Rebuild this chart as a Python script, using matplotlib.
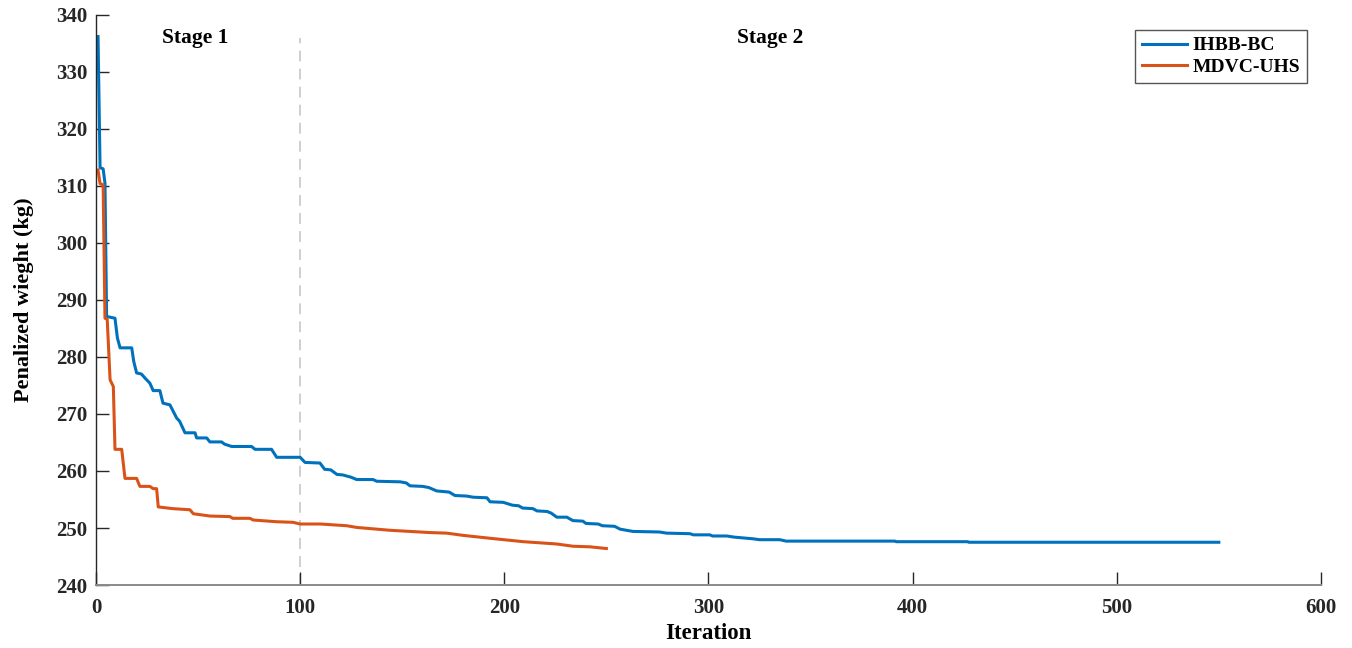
#!/usr/bin/env python3

import matplotlib
matplotlib.use('Agg')
from matplotlib import pyplot as plt

# breakpoints (iteration, penalized weight)
IHBB_X = [1, 2, 3.5, 4.4, 5.2, 9.3, 10.5, 11.8, 17.5, 18.5, 19.9, 22.3, 24, 26.4, 28, 31.3,
          32.8, 36.2, 39.5, 41, 43.6, 48.5, 49.3, 54.2, 55.8, 61.5, 63, 66.5, 76.2, 77.9, 86,
          88.5, 100, 102.4, 109.7, 112, 115, 118, 121, 125, 127.7, 135.7, 137.5, 149, 152,
          153.8, 160, 163, 166.9, 170, 173, 175.8, 181.6, 184.8, 191.5, 193, 199.5, 204, 207,
          209, 214, 216, 221, 223, 225.7, 230.6, 233.6, 238.5, 240, 246, 248, 254, 256.7, 263,
          276, 279.5, 291, 292.6, 300.7, 302, 309, 312.6, 322, 325, 335, 338, 391.3, 392, 427,
          427.5, 550]
IHBB_Y = [336.2, 313.2, 313.0, 310.5, 287.1, 286.8, 283.3, 281.6, 281.6, 279.2, 277.2, 277.0,
          276.3, 275.4, 274.1, 274.1, 271.9, 271.6, 269.3, 268.7, 266.7, 266.7, 265.8, 265.8,
          265.1, 265.1, 264.7, 264.3, 264.3, 263.8, 263.8, 262.4, 262.4, 261.5, 261.4, 260.3,
          260.2, 259.4, 259.3, 258.9, 258.5, 258.5, 258.2, 258.1, 257.9, 257.4, 257.3, 257.1,
          256.5, 256.4, 256.3, 255.7, 255.6, 255.4, 255.3, 254.6, 254.5, 254.0, 253.9, 253.5,
          253.4, 253.0, 252.9, 252.6, 251.9, 251.9, 251.3, 251.2, 250.8, 250.7, 250.4, 250.3,
          249.8, 249.4, 249.3, 249.1, 249.0, 248.8, 248.8, 248.6, 248.6, 248.4, 248.1, 247.95,
          247.95, 247.7, 247.7, 247.6, 247.6, 247.5, 247.5]

MDVC_X = [1, 2, 3.5, 4.4, 5.5, 6.9, 8.5, 9.3, 12.6, 13, 14.2, 19.9, 21.5, 26.4, 28, 29.7, 30.5,
          37.5, 46, 47.7, 55.8, 65.6, 67, 75.4, 77, 88.5, 96.5, 100, 110, 122.8, 127.7, 144,
          163.6, 171.8, 180, 193, 209.3, 225.6, 233.7, 242, 250]
MDVC_Y = [312.8, 310.4, 310.2, 286.8, 286.6, 276.0, 274.8, 263.8, 263.8, 262.5, 258.7, 258.7,
          257.3, 257.3, 256.9, 256.9, 253.7, 253.4, 253.2, 252.5, 252.1, 252.0, 251.7, 251.7,
          251.4, 251.1, 251.0, 250.7, 250.7, 250.4, 250.1, 249.6, 249.2, 249.1, 248.7, 248.2,
          247.6, 247.2, 246.8, 246.7, 246.4]

STAGE_SPLIT = 100
X_TICKS = [0, 100, 200, 300, 400, 500, 600]
Y_TICKS = [240, 250, 260, 270, 280, 290, 300, 310, 320, 330, 340]

plt.rcParams['font.family'] = ['Liberation Serif', 'DejaVu Serif']
plt.rcParams['font.weight'] = 'bold'

fig = plt.figure(figsize=(13.52, 6.48), dpi=100)
ax = fig.add_axes([0.071, 0.0972, 0.906, 0.8798])

ax.plot(IHBB_X, IHBB_Y, color='#0072BD', lw=2.2, label='IHBB-BC')
ax.plot(MDVC_X, MDVC_Y, color='#D95319', lw=2.2, label='MDVC-UHS')
ax.plot([STAGE_SPLIT, STAGE_SPLIT], [240, 336], color='#cccccc', lw=1.3,
        ls=(0, (6, 4)), zorder=0)

ax.text(48.5, 336, 'Stage 1', ha='center', va='center', fontsize=15.5, fontweight='bold')
ax.text(330, 336, 'Stage 2', ha='center', va='center', fontsize=15.5, fontweight='bold')

ax.set_xlim(0, 600)
ax.set_ylim(240, 340)
ax.set_xticks(X_TICKS)
ax.set_yticks(Y_TICKS)
ax.tick_params(direction='in', length=9.5, width=1, labelsize=15, colors='#262626')
ax.tick_params(axis='x', pad=9)
ax.tick_params(axis='y', pad=6)
for lbl in ax.get_xticklabels() + ax.get_yticklabels():
    lbl.set_fontweight('bold')
for s in ['top', 'right']:
    ax.spines[s].set_visible(False)
ax.spines['left'].set_color('#262626')
ax.spines['left'].set_linewidth(1)
ax.spines['bottom'].set_color('#8a8a8a')
ax.spines['bottom'].set_linewidth(1.4)

ax.set_xlabel('Iteration', fontsize=16.5, fontweight='bold', labelpad=4)
ax.set_ylabel('Penalized wieght (kg)', fontsize=16, fontweight='bold', labelpad=16)

leg = ax.legend(loc='upper right', bbox_to_anchor=(0.9886, 0.9737), borderaxespad=0,
                fontsize=14, fancybox=False, edgecolor='#555555', framealpha=1,
                handlelength=2.3, borderpad=0.35, labelspacing=0.2, handletextpad=0.3)
leg.get_frame().set_linewidth(1.0)
for t in leg.get_texts():
    t.set_fontweight('bold')

fig.savefig('out.png', dpi=100)
